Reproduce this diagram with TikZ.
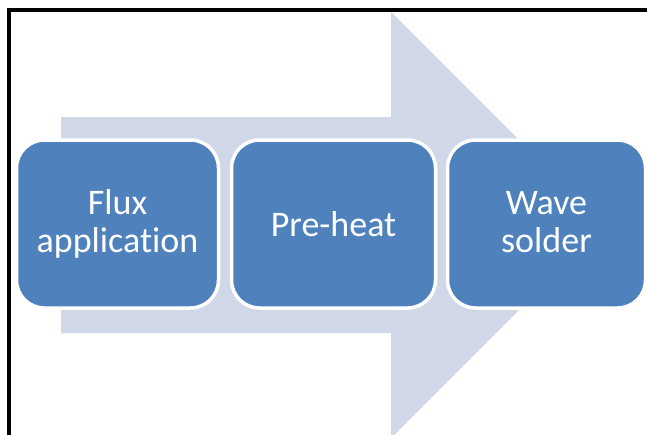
\documentclass[tikz,border=0pt]{standalone}
\usepackage{fontspec}
\setmainfont{Carlito}[Ligatures=NoCommon]
\definecolor{stepblue}{HTML}{4F81BD}
\definecolor{arrowlight}{HTML}{D0D8E8}
\begin{document}
\begin{tikzpicture}[x=1pt,y=-1pt,
  stepbox/.style={rectangle,rounded corners=28pt,fill=stepblue,draw=white,line width=3.5pt,
    minimum height=168pt,inner sep=0pt,align=center,text=white,
    font=\fontsize{36}{38}\selectfont},
  twoline/.style={text height=65pt,text depth=8pt},
  frameline/.style={draw=black,line width=3.2pt}]
\useasboundingbox (0,0) rectangle (647,434);
\clip (0,0) rectangle (647,434);
% frame
\draw[frameline] (9,440) -- (9,10) -- (650,10);
% big arrow
\fill[arrowlight] (61,117) -- (391,117) -- (391,12) -- (604,225) -- (391,438) -- (391,333) -- (61,333) -- cycle;
% steps
\node[stepbox,twoline,minimum width=202pt] (flux) at (117.5,224) {Flux\\application};
\node[stepbox,minimum width=204pt] (preheat) at (333.5,224) {Pre-heat};
\node[stepbox,twoline,minimum width=198pt] (wave) at (546.5,224) {Wave\\solder};
\end{tikzpicture}
\end{document}
